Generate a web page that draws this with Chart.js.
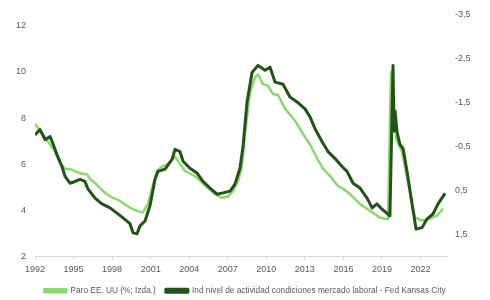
<!DOCTYPE html>
<html>
<head>
<meta charset="utf-8">
<script src="https://cdn.jsdelivr.net/npm/chart.js@4.4.0/dist/chart.umd.min.js"></script>
<style>
  body { margin: 0; background: #fff; }
  #wrap { width: 490px; height: 300px; }
</style>
</head>
<body>
<div id="wrap"><canvas id="myChart" width="490" height="300"></canvas></div>
<script>
// Paro EE. UU (%), eje izquierdo
const paroFechas = [1992.0, 1992.91, 1993.56, 1993.95, 1994.33, 1994.72, 1995.5, 1996.05, 1996.28, 1996.82,
  1997.45, 1998.07, 1998.61, 1999.39, 1999.94, 2000.4, 2000.79, 2001.18, 2001.49, 2001.88,
  2002.35, 2002.9, 2003.28, 2003.67, 2004.45, 2005.0, 2005.46, 2006.01, 2006.55, 2007.02,
  2007.41, 2007.8, 2008.11, 2008.34, 2008.73, 2009.12, 2009.35, 2009.74, 2010.13, 2010.52,
  2010.91, 2011.46, 2012.0, 2012.39, 2012.86, 2013.4, 2013.95, 2014.41, 2014.96, 2015.58,
  2016.05, 2016.51, 2017.29, 2018.07, 2018.85, 2019.47, 2019.7, 2019.86, 2020.17, 2020.56,
  2020.95, 2021.34, 2021.57, 2022.12, 2022.58, 2023.28, 2023.75];
const paroValores = [7.75, 7.06, 6.55, 6.03, 5.8, 5.78, 5.6, 5.55, 5.35, 5.1,
  4.75, 4.53, 4.4, 4.1, 3.97, 3.9, 4.27, 5.1, 5.7, 5.9,
  6.0, 6.33, 6.0, 5.7, 5.48, 5.2, 4.96, 4.7, 4.53, 4.6,
  4.83, 5.26, 5.9, 7.3, 9.1, 9.77, 9.9, 9.47, 9.4, 9.04,
  9.0, 8.4, 8.05, 7.75, 7.3, 6.85, 6.25, 5.8, 5.48, 5.05,
  4.9, 4.7, 4.27, 3.97, 3.67, 3.6, 10.0, 8.0, 7.0, 6.55,
  5.4, 4.27, 3.67, 3.55, 3.6, 3.76, 4.06];

// Ind nivel de actividad condiciones mercado laboral (Fed Kansas City), eje derecho invertido
const indFechas = [1992.0, 1992.39, 1992.78, 1993.17, 1993.4, 1993.71, 1994.1, 1994.33, 1994.72, 1995.11,
  1995.5, 1995.89, 1996.12, 1996.67, 1997.21, 1997.84, 1998.38, 1998.85, 1999.39, 1999.63,
  1999.94, 2000.17, 2000.56, 2000.95, 2001.34, 2001.57, 2002.12, 2002.66, 2002.9, 2003.28,
  2003.52, 2004.06, 2004.61, 2005.07, 2005.62, 2006.16, 2006.63, 2007.18, 2007.56, 2007.95,
  2008.19, 2008.5, 2008.89, 2009.35, 2009.9, 2010.29, 2010.68, 2011.3, 2011.84, 2012.39,
  2013.01, 2013.4, 2013.79, 2014.33, 2014.8, 2015.35, 2015.89, 2016.28, 2016.75, 2017.29,
  2017.84, 2018.23, 2018.61, 2019.0, 2019.62, 2019.86, 2019.94, 2020.02, 2020.17, 2020.4,
  2020.64, 2020.95, 2021.34, 2021.65, 2022.12, 2022.51, 2022.97, 2023.36, 2023.91];
const indValores = [-0.76, -0.88, -0.65, -0.72, -0.56, -0.31, -0.04, 0.18, 0.34, 0.3,
  0.25, 0.3, 0.47, 0.68, 0.81, 0.9, 1.02, 1.13, 1.26, 1.47,
  1.49, 1.31, 1.2, 0.85, 0.25, 0.07, 0.02, -0.2, -0.43, -0.38,
  -0.16, 0.0, 0.11, 0.3, 0.45, 0.59, 0.56, 0.52, 0.36, 0.0,
  -0.5, -1.51, -2.18, -2.34, -2.23, -2.3, -1.96, -1.91, -1.62, -1.51,
  -1.35, -1.17, -0.9, -0.61, -0.38, -0.22, -0.04, 0.07, 0.34, 0.45,
  0.68, 0.9, 0.81, 0.93, 1.08, -2.34, -0.85, -1.3, -0.83, -0.54,
  -0.45, 0.07, 0.81, 1.38, 1.35, 1.15, 1.04, 0.81, 0.57];

const aniosEje = [1992, 1995, 1998, 2001, 2004, 2007, 2010, 2013, 2016, 2019, 2022];
const ticksIzda = [2, 4, 6, 8, 10, 12];
const ticksDcha = [-3.5, -2.5, -1.5, -0.5, 0.5, 1.5];

const verdeClaro = '#8ed672';
const verdeOscuro = '#24531a';
const gris = '#595959';
const fuente = { family: 'Liberation Sans', size: 9 };

const puntos = (xs, ys) => xs.map((x, i) => ({ x: x, y: ys[i] }));

const ctx = document.getElementById('myChart').getContext('2d');
const myChart = new Chart(ctx, {
  type: 'line',
  data: {
    datasets: [{
      label: 'Paro EE. UU (%; Izda.)',
      data: puntos(paroFechas, paroValores),
      borderColor: verdeClaro,
      backgroundColor: verdeClaro,
      borderWidth: 2.5,
      yAxisID: 'y',
      order: 1,
    }, {
      label: 'Ind nivel de actividad condiciones mercado laboral - Fed Kansas City',
      data: puntos(indFechas, indValores),
      borderColor: verdeOscuro,
      backgroundColor: verdeOscuro,
      borderWidth: 3,
      yAxisID: 'y2',
      order: 0,
    }]
  },
  options: {
    responsive: false,
    animation: false,
    layout: { padding: { top: 11, left: 0, right: 0, bottom: -5 } },
    elements: { point: { radius: 0 }, line: { tension: 0, borderJoinStyle: 'round' } },
    plugins: {
      tooltip: { enabled: false },
      legend: {
        position: 'bottom',
        labels: {
          boxWidth: 22, boxHeight: 3, padding: 10,
          color: gris, font: { family: 'Liberation Sans', size: 8.3 },
          sort: (a, b) => a.datasetIndex - b.datasetIndex,
        }
      }
    },
    scales: {
      x: {
        type: 'linear', min: 1992, max: 2024.06,
        afterBuildTicks: s => { s.ticks = aniosEje.map(v => ({ value: v })); },
        afterFit: s => { s.height = 20.5; },
        ticks: { color: gris, font: fuente, maxRotation: 0, padding: 4, callback: v => String(v) },
        grid: { display: true, drawOnChartArea: false, tickLength: 4, color: '#d9d9d9' },
        border: { display: true, color: '#d9d9d9' },
      },
      y: {
        position: 'left', min: 2, max: 12.5,
        afterBuildTicks: s => { s.ticks = ticksIzda.map(v => ({ value: v })); },
        afterFit: s => { s.width = 35; },
        ticks: { color: gris, font: fuente, padding: 9 },
        grid: { display: false, drawTicks: false },
        border: { display: false },
      },
      y2: {
        position: 'right', min: -3.5, max: 2, reverse: true,
        afterBuildTicks: s => { s.ticks = ticksDcha.map(v => ({ value: v })); },
        afterFit: s => { s.width = 43; },
        ticks: { color: gris, font: fuente, padding: 8, callback: v => v.toFixed(1).replace('.', ',') },
        grid: { display: false, drawTicks: false },
        border: { display: false },
      }
    }
  }
});
</script>
</body>
</html>
